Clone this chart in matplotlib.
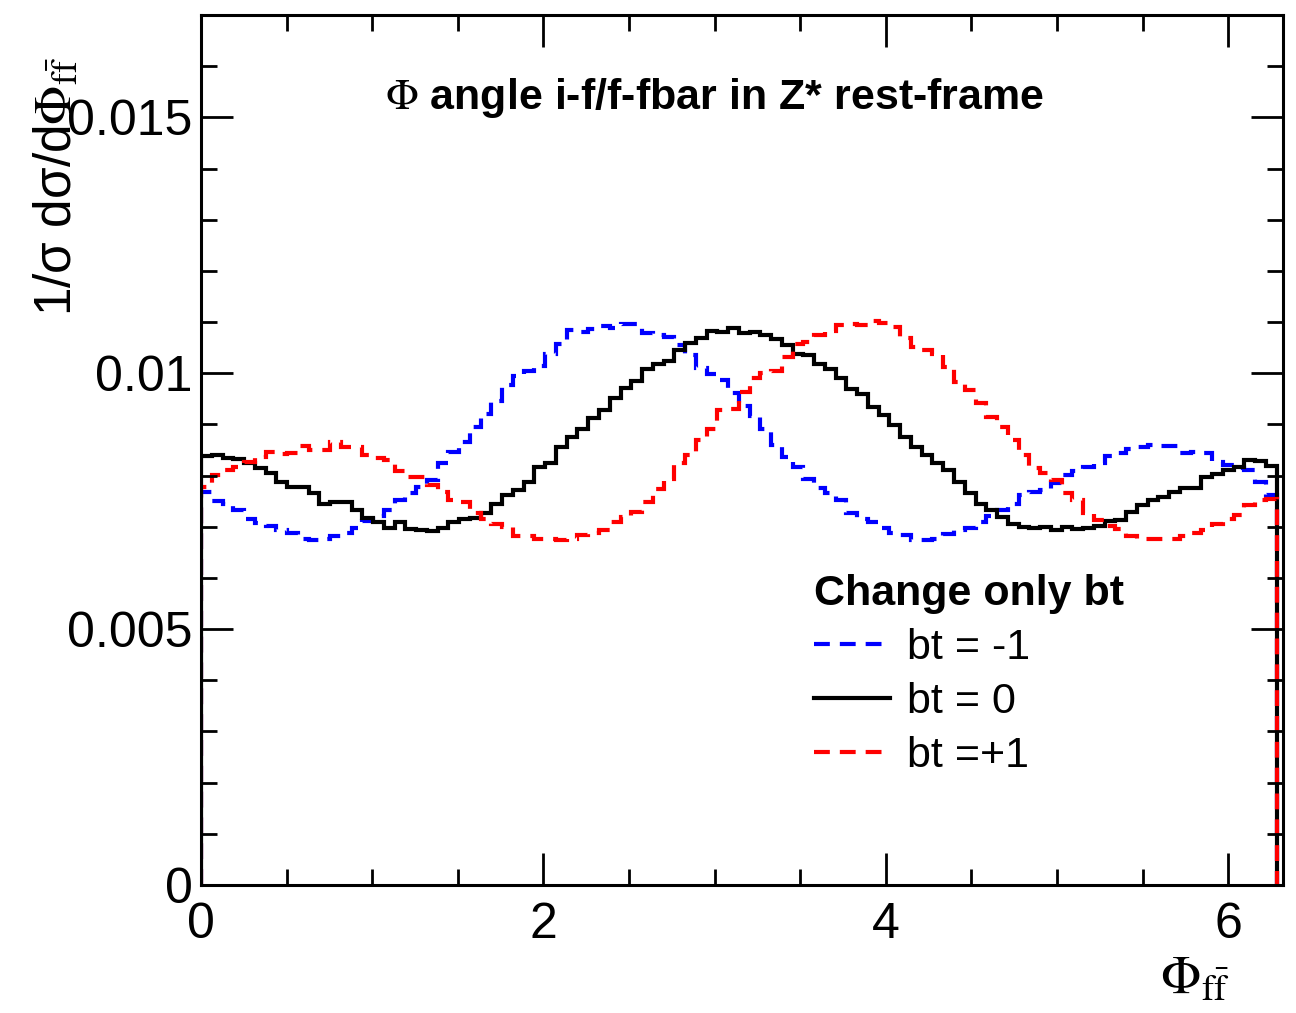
import numpy as np
import matplotlib
matplotlib.use("Agg")
import matplotlib.pyplot as plt
from matplotlib.ticker import MultipleLocator, FuncFormatter

plt.rcParams['font.family'] = ['Liberation Sans', 'DejaVu Sans']
plt.rcParams['mathtext.fontset'] = 'stix'

# 100 bins over [0, 2pi]
n_bins = 100
x_lo, x_hi = 0.0, 2 * np.pi

bt_minus1 = [
    0.00768, 0.00750, 0.00745, 0.00732, 0.00716, 0.00708, 0.00701, 0.00694, 0.00687, 0.00677,
    0.00675, 0.00677, 0.00682, 0.00687, 0.00698, 0.00712, 0.00722, 0.00732, 0.00753, 0.00765,
    0.00778, 0.00792, 0.00825, 0.00846, 0.00866, 0.00894, 0.00921, 0.00946, 0.00977, 0.00994,
    0.01005, 0.01014, 0.01038, 0.01058, 0.01084, 0.01081, 0.01086, 0.01092, 0.01089, 0.01097,
    0.01097, 0.01079, 0.01074, 0.01070, 0.01055, 0.01035, 0.01010, 0.00998, 0.00986, 0.00962,
    0.00936, 0.00916, 0.00892, 0.00859, 0.00837, 0.00817, 0.00794, 0.00775, 0.00765, 0.00752,
    0.00726, 0.00715, 0.00710, 0.00697, 0.00688, 0.00684, 0.00675, 0.00675, 0.00677, 0.00685,
    0.00693, 0.00698, 0.00710, 0.00722, 0.00732, 0.00745, 0.00762, 0.00768, 0.00771, 0.00785,
    0.00801, 0.00809, 0.00817, 0.00825, 0.00838, 0.00845, 0.00851, 0.00856, 0.00859, 0.00858,
    0.00857, 0.00844, 0.00846, 0.00844, 0.00827, 0.00820, 0.00815, 0.00811, 0.00788, 0.00762,
]

bt_zero = [
    0.00838, 0.00841, 0.00835, 0.00833, 0.00824, 0.00814, 0.00805, 0.00788, 0.00778, 0.00777,
    0.00765, 0.00744, 0.00749, 0.00749, 0.00732, 0.00717, 0.00710, 0.00698, 0.00710, 0.00695,
    0.00693, 0.00692, 0.00697, 0.00710, 0.00716, 0.00718, 0.00726, 0.00745, 0.00762, 0.00771,
    0.00788, 0.00817, 0.00824, 0.00856, 0.00876, 0.00892, 0.00912, 0.00928, 0.00951, 0.00972,
    0.00985, 0.01009, 0.01019, 0.01023, 0.01045, 0.01059, 0.01068, 0.01083, 0.01081, 0.01089,
    0.01078, 0.01081, 0.01074, 0.01066, 0.01055, 0.01038, 0.01035, 0.01019, 0.01009, 0.00990,
    0.00970, 0.00960, 0.00934, 0.00918, 0.00898, 0.00876, 0.00856, 0.00840, 0.00824, 0.00811,
    0.00788, 0.00765, 0.00745, 0.00732, 0.00719, 0.00705, 0.00700, 0.00698, 0.00699, 0.00694,
    0.00700, 0.00695, 0.00697, 0.00701, 0.00712, 0.00713, 0.00729, 0.00742, 0.00752, 0.00758,
    0.00768, 0.00775, 0.00775, 0.00797, 0.00804, 0.00811, 0.00817, 0.00831, 0.00828, 0.00819,
]

bt_plus1 = [
    0.00778, 0.00801, 0.00810, 0.00817, 0.00827, 0.00836, 0.00846, 0.00843, 0.00845, 0.00858,
    0.00850, 0.00850, 0.00866, 0.00855, 0.00855, 0.00840, 0.00835, 0.00830, 0.00809, 0.00797,
    0.00797, 0.00781, 0.00767, 0.00753, 0.00749, 0.00726, 0.00716, 0.00705, 0.00700, 0.00682,
    0.00682, 0.00677, 0.00677, 0.00674, 0.00676, 0.00684, 0.00688, 0.00693, 0.00710, 0.00720,
    0.00729, 0.00749, 0.00773, 0.00794, 0.00824, 0.00840, 0.00869, 0.00892, 0.00928, 0.00931,
    0.00963, 0.00990, 0.01000, 0.01005, 0.01032, 0.01058, 0.01061, 0.01074, 0.01082, 0.01094,
    0.01096, 0.01094, 0.01102, 0.01098, 0.01090, 0.01068, 0.01051, 0.01045, 0.01038, 0.01012,
    0.00983, 0.00967, 0.00941, 0.00915, 0.00895, 0.00869, 0.00840, 0.00814, 0.00805, 0.00791,
    0.00766, 0.00753, 0.00726, 0.00713, 0.00702, 0.00695, 0.00682, 0.00677, 0.00677, 0.00677,
    0.00677, 0.00682, 0.00688, 0.00693, 0.00705, 0.00715, 0.00723, 0.00742, 0.00753, 0.00755,
]

labels = ["bt = -1", "bt = 0", "bt =+1"]

edges = np.linspace(x_lo, x_hi, n_bins + 1)

fig = plt.figure(figsize=(12.96, 10.13), dpi=100)
ax = fig.add_axes([201 / 1296, 1 - 885 / 1013, (1283 - 201) / 1296, (885 - 15) / 1013])

dash = (0, (3.8, 2.4))
h1 = ax.stairs(bt_minus1, edges, baseline=0, color="#0000ff", lw=3, linestyle=dash, label=labels[0])
h0 = ax.stairs(bt_zero, edges, baseline=0, color="black", lw=3, label=labels[1])
h2 = ax.stairs(bt_plus1, edges, baseline=0, color="#ff0000", lw=3, linestyle=dash, label=labels[2])

ax.set_xlim(0, 6.32)
ax.set_ylim(0, 0.017)

ax.xaxis.set_major_locator(MultipleLocator(2))
ax.xaxis.set_minor_locator(MultipleLocator(0.5))
ax.yaxis.set_major_locator(MultipleLocator(0.005))
ax.yaxis.set_minor_locator(MultipleLocator(0.001))
ax.yaxis.set_major_formatter(FuncFormatter(lambda v, p: "%g" % round(v, 4)))
ax.xaxis.set_major_formatter(FuncFormatter(lambda v, p: "%g" % v))

ax.tick_params(which="both", direction="in", top=True, right=True, width=2)
ax.tick_params(which="major", length=23, labelsize=36)
ax.tick_params(which="minor", length=11.5)
ax.tick_params(axis="x", which="major", pad=12)
ax.tick_params(axis="y", which="major", pad=6)
for s in ax.spines.values():
    s.set_linewidth(2.2)

ax.text(0.475, 0.905, r"$\Phi$ angle i-f/f-fbar in Z* rest-frame",
        transform=ax.transAxes, ha="center", va="center", fontsize=31, fontweight="bold")

fig.text(58 / 1296, 1 - 56 / 1013, r"1/σ dσ/d$\Phi_{\mathrm{f\bar{f}}}$",
         rotation=90, ha="center", va="top", fontsize=37)
fig.text(1230 / 1296, 1 - 980 / 1013, r"$\Phi_{\mathrm{f\bar{f}}}$",
         ha="right", va="center", fontsize=38)

leg = ax.legend(handles=[h1, h0, h2], labels=labels, loc="upper left",
                bbox_to_anchor=(0.567, 0.358), frameon=False, fontsize=31,
                title="Change only bt", title_fontproperties={"weight": "bold", "size": 31},
                alignment="left", handlelength=1.75, handletextpad=0.4,
                labelspacing=0.33, borderpad=0, borderaxespad=0)

fig.savefig("out.png", dpi=100)
